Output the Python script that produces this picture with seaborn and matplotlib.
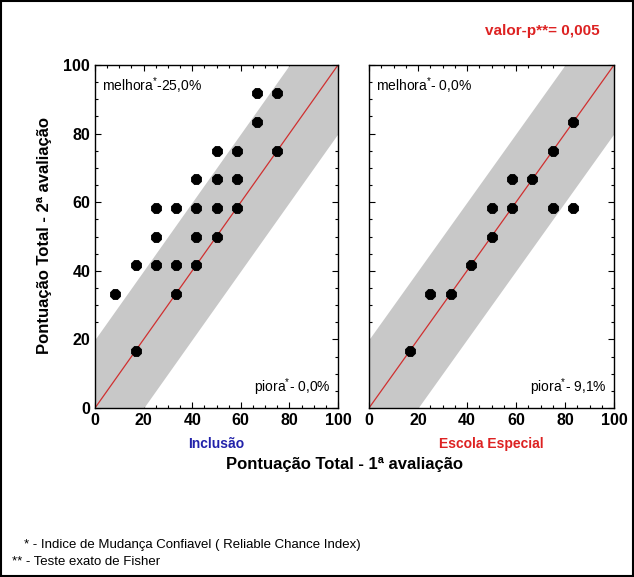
import numpy as np
import pandas as pd
import matplotlib
matplotlib.use("Agg")
import matplotlib.pyplot as plt
import seaborn as sns
from matplotlib.ticker import MultipleLocator

# Data (scores in steps of 1/12 of 100)
incl_x = [8.3, 16.7, 16.7, 25, 25, 25, 33.3, 33.3, 33.3, 41.7, 41.7, 41.7, 41.7,
          50, 50, 50, 50, 58.3, 58.3, 58.3, 66.7, 66.7, 75, 75]
incl_y = [33.3, 41.7, 16.7, 58.3, 50, 41.7, 58.3, 41.7, 33.3, 66.7, 58.3, 50, 41.7,
          75, 66.7, 58.3, 50, 75, 66.7, 58.3, 91.7, 83.3, 91.7, 75]
esp_x = [16.7, 25, 33.3, 41.7, 50, 50, 58.3, 58.3, 66.7, 75, 75, 83.3, 83.3]
esp_y = [16.7, 33.3, 33.3, 41.7, 50, 58.3, 66.7, 58.3, 66.7, 75, 58.3, 83.3, 58.3]
band_half = 20
melhora = ["melhora$^{*}$-25,0%", "melhora$^{*}$- 0,0%"]
piora = ["piora$^{*}$- 0,0%", "piora$^{*}$- 9,1%"]
groups = ["Inclusão", "Escola Especial"]
group_colors = ["#2222aa", "#dd2222"]
ticks = [0, 20, 40, 60, 80, 100]

sns.set_style("ticks")
plt.rcParams["font.family"] = ["Liberation Sans", "DejaVu Sans"]
plt.rcParams["text.color"] = "black"
plt.rcParams["xtick.color"] = "black"
plt.rcParams["ytick.color"] = "black"
plt.rcParams["mathtext.default"] = "regular"

df = pd.concat([
    pd.DataFrame({"x": incl_x, "y": incl_y, "grupo": groups[0]}),
    pd.DataFrame({"x": esp_x, "y": esp_y, "grupo": groups[1]}),
])

fig = plt.figure(figsize=(6.34, 5.77), dpi=100)
ax1 = fig.add_axes([95 / 634, 1 - 408 / 577, 243 / 634, 343 / 577])
ax2 = fig.add_axes([369 / 634, 1 - 408 / 577, 245 / 634, 343 / 577])

line = np.array([0, 100])
for i, ax in enumerate([ax1, ax2]):
    ax.fill_between(line, line - band_half, line + band_half, color="#c8c8c8", lw=0, zorder=1)
    ax.plot(line, line, color="#d03030", lw=0.9, zorder=2)
    sns.scatterplot(data=df[df["grupo"] == groups[i]], x="x", y="y", ax=ax,
                    color="black", s=60, marker="8", edgecolor="black", zorder=3, legend=False)
    ax.set_xlim(0, 100)
    ax.set_ylim(0, 100)
    ax.set_xticks(ticks)
    ax.set_yticks(ticks)
    ax.xaxis.set_minor_locator(MultipleLocator(5))
    ax.yaxis.set_minor_locator(MultipleLocator(5))
    ax.tick_params(which="both", direction="in", top=True, right=True, width=0.8,
                   colors="black", labelcolor="black")
    ax.tick_params(which="major", length=4, labelsize=11.5)
    ax.tick_params(which="minor", length=2)
    for lab in ax.get_xticklabels() + ax.get_yticklabels():
        lab.set_fontweight("bold")
    for sp in ax.spines.values():
        sp.set_linewidth(1.0)
        sp.set_color("black")
    ax.set_xlabel("")
    ax.set_ylabel("")
    ax.text(3, 97, melhora[i], ha="left", va="top", fontsize=10)
    ax.text(97, 3, piora[i], ha="right", va="bottom", fontsize=10)
    ax.text(0.5, -0.085, groups[i], transform=ax.transAxes, ha="center", va="top",
            fontsize=10, fontweight="bold", color=group_colors[i])

ax2.set_yticklabels([])

fig.text(345 / 634, 1 - 465 / 577, "Pontuação Total - 1ª avaliação", ha="center", va="center",
         fontsize=12, fontweight="bold")
fig.text(45 / 634, 1 - 236 / 577, "Pontuação Total - 2ª avaliação", ha="center", va="center",
         rotation=90, fontsize=12, fontweight="bold")
fig.text(600 / 634, 1 - 31 / 577, "valor-p**= 0,005", ha="right", va="center",
         fontsize=11, fontweight="bold", color="#dd2222")
fig.text(24 / 634, 1 - 545 / 577, "* - Indice de Mudança Confiavel ( Reliable Chance Index)",
         ha="left", va="center", fontsize=9.5)
fig.text(12 / 634, 1 - 562 / 577, "** - Teste exato de Fisher", ha="left", va="center", fontsize=9.5)

# outer frame
fig.patches.append(plt.Rectangle((0.002, 0.002), 0.996, 0.996, transform=fig.transFigure,
                                 fill=False, edgecolor="black", lw=1.5))

fig.savefig("out.png", dpi=100)
